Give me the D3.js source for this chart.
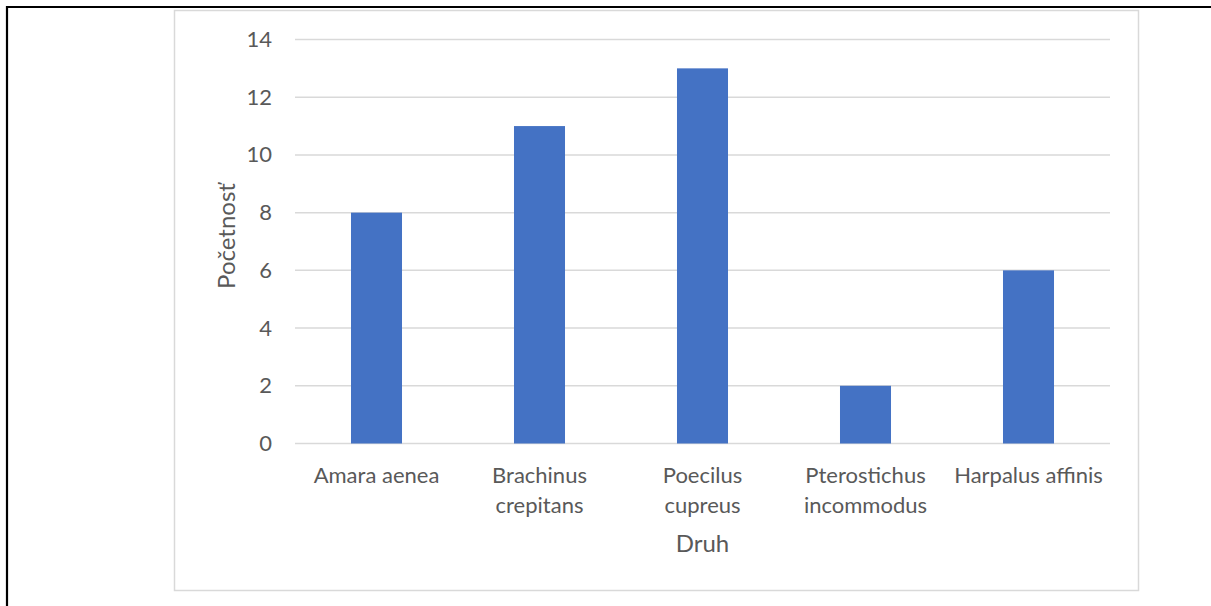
<!DOCTYPE html>
<html>
<head>
<meta charset="utf-8">
<script src="https://cdn.jsdelivr.net/npm/d3@7"></script>
<style>
  html, body { margin: 0; padding: 0; background: #fff; }
  svg { display: block; }
  text { font-family: Lato, "Open Sans", sans-serif; fill: #595959; }
</style>
</head>
<body>
<svg id="chart" width="1211" height="606"></svg>
<script>
// Počet jedincov podľa druhu
const categories = [
  "Amara aenea",
  "Brachinus crepitans",
  "Poecilus cupreus",
  "Pterostichus incommodus",
  "Harpalus affinis"
];
const counts = [8, 11, 13, 2, 6];
const yTicks = [0, 2, 4, 6, 8, 10, 12, 14];
// Labels broken onto two lines where they wrap
const categoryLines = [
  ["Amara aenea"],
  ["Brachinus", "crepitans"],
  ["Poecilus", "cupreus"],
  ["Pterostichus", "incommodus"],
  ["Harpalus affinis"]
];
const yTitle = "Početnosť";
const xTitle = "Druh";

const svg = d3.select("#chart");

// page frame (top and left edges)
svg.append("line").attr("x1", 6).attr("x2", 1211).attr("y1", 7).attr("y2", 7)
  .attr("stroke", "#000").attr("stroke-width", 2.2);
svg.append("line").attr("x1", 7).attr("x2", 7).attr("y1", 6).attr("y2", 606)
  .attr("stroke", "#000").attr("stroke-width", 2.2);

// chart area border
svg.append("rect").attr("x", 174.5).attr("y", 10.5).attr("width", 964).attr("height", 580)
  .attr("fill", "#fff").attr("stroke", "#d9d9d9").attr("stroke-width", 1.5);

const plot = { left: 295, right: 1110, top: 39.5, bottom: 443.5 };

const x = d3.scaleBand().domain(categories).range([plot.left, plot.right])
  .paddingInner(0.687).paddingOuter(0.3435);
const y = d3.scaleLinear().domain([0, 14]).range([plot.bottom, plot.top]);

// gridlines
svg.append("g").selectAll("line").data(yTicks).join("line")
  .attr("x1", plot.left).attr("x2", plot.right)
  .attr("y1", d => y(d)).attr("y2", d => y(d))
  .attr("stroke", "#d9d9d9").attr("stroke-width", 1.5);

// bars
svg.append("g").selectAll("rect").data(counts).join("rect")
  .attr("x", (d, i) => x(categories[i]))
  .attr("width", x.bandwidth())
  .attr("y", d => y(d))
  .attr("height", d => y(0) - y(d))
  .attr("fill", "#4472c4");

// y axis labels
const yAxis = svg.append("g").attr("transform", `translate(${plot.left},0)`)
  .call(d3.axisLeft(y).tickValues(yTicks).tickSize(0).tickPadding(23));
yAxis.select(".domain").remove();
yAxis.selectAll("text").style("font-size", "22px").attr("fill", "#595959")
  .style("font-family", "Lato, 'Open Sans', sans-serif");

// x axis labels
const xAxis = svg.append("g").attr("transform", `translate(0,${plot.bottom})`)
  .call(d3.axisBottom(x).tickSize(0).tickFormat(""));
xAxis.select(".domain").remove();
xAxis.selectAll(".tick").each(function (d, i) {
  const t = d3.select(this).append("text")
    .attr("text-anchor", "middle")
    .attr("fill", "#595959")
    .style("font-size", "22px")
    .style("font-family", "Lato, 'Open Sans', sans-serif");
  categoryLines[i].forEach((line, k) => {
    t.append("tspan").attr("x", 0).attr("y", 39.5 + k * 30).text(line);
  });
});

// axis titles
svg.append("text")
  .attr("transform", `translate(235,236) rotate(-90)`)
  .attr("text-anchor", "middle")
  .style("font-size", "24px")
  .text(yTitle);
svg.append("text")
  .attr("x", (plot.left + plot.right) / 2).attr("y", 551.5)
  .attr("text-anchor", "middle")
  .style("font-size", "24px")
  .text(xTitle);
</script>
</body>
</html>
